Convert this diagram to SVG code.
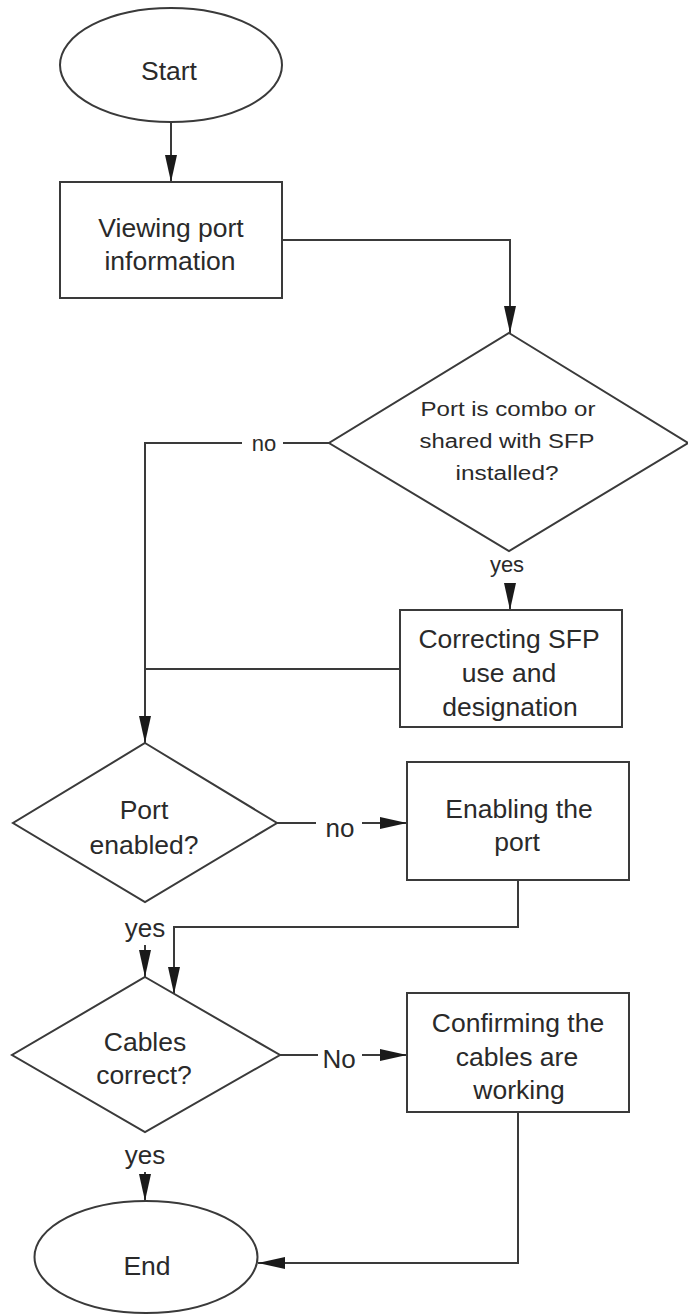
<svg xmlns="http://www.w3.org/2000/svg" width="688" height="1314" viewBox="0 0 688 1314">
<style>
.shape{fill:#fff;stroke:#3a3a3a;stroke-width:2}
.t{font-family:"Liberation Sans",Arial,sans-serif;font-size:26.5px;fill:#2a2a2a;text-anchor:middle}
.s{font-family:"Liberation Sans",Arial,sans-serif;font-size:19.5px;fill:#2a2a2a;text-anchor:middle}
.l{font-family:"Liberation Sans",Arial,sans-serif;font-size:26px;fill:#2a2a2a;text-anchor:middle}
.l2{font-family:"Liberation Sans",Arial,sans-serif;font-size:22px;fill:#2a2a2a;text-anchor:middle}
.c{fill:none;stroke:#3a3a3a;stroke-width:2}
</style>
<defs>
<marker id="ah" markerUnits="userSpaceOnUse" markerWidth="27" markerHeight="13" refX="27" refY="6" orient="auto">
<path d="M0,0 L27,6 L0,12 z" fill="#1a1a1a"/>
</marker>
</defs>
<rect width="688" height="1314" fill="#fff"/>
<g id="connectors">
<path class="c" d="M171,122 V182" marker-end="url(#ah)"/>
<path class="c" d="M282,240 H510 V333" marker-end="url(#ah)"/>
<path class="c" d="M329,443 H283"/>
<path class="c" d="M242,443 H145 V743" marker-end="url(#ah)"/>
<path class="c" d="M510,584 V610" marker-end="url(#ah)"/>
<path class="c" d="M400,669 H145"/>
<path class="c" d="M277,823 H316"/>
<path class="c" d="M362,823 H407" marker-end="url(#ah)"/>
<path class="c" d="M518,880 V927 H174 V994" marker-end="url(#ah)"/>
<path class="c" d="M145,945 V977" marker-end="url(#ah)"/>
<path class="c" d="M280,1055 H318"/>
<path class="c" d="M362,1055 H407" marker-end="url(#ah)"/>
<path class="c" d="M518,1112 V1263 H258" marker-end="url(#ah)"/>
<path class="c" d="M145,1172 V1201" marker-end="url(#ah)"/>
<text class="l2" x="264" y="451">no</text>
<text class="l2" x="507" y="572">yes</text>
<text class="l" x="340" y="837">no</text>
<text class="l" x="145" y="937">yes</text>
<text class="l" x="339" y="1068">No</text>
<text class="l" x="145" y="1164">yes</text>
</g>
<g id="start">
<ellipse class="shape" cx="171" cy="65" rx="111" ry="57"/>
<text class="t" x="169" y="80">Start</text>
</g>
<g id="viewing">
<rect class="shape" x="60" y="182" width="222" height="116"/>
<text class="t" x="171" y="237">Viewing port</text>
<text class="t" x="170" y="270">information</text>
</g>
<g id="combo">
<polygon class="shape" points="509,333 688,443 509,551 329,443"/>
<text class="s" x="508" y="416" textLength="175" lengthAdjust="spacingAndGlyphs">Port is combo or</text>
<text class="s" x="507" y="448" textLength="175" lengthAdjust="spacingAndGlyphs">shared with SFP</text>
<text class="s" x="507" y="480" textLength="103" lengthAdjust="spacingAndGlyphs">installed?</text>
</g>
<g id="correcting">
<rect class="shape" x="400" y="610" width="222" height="117"/>
<text class="t" x="509" y="648">Correcting SFP</text>
<text class="t" x="509" y="682">use and</text>
<text class="t" x="510" y="716">designation</text>
</g>
<g id="enabled">
<polygon class="shape" points="145,743 277,823 145,902 13,823"/>
<text class="t" x="144" y="819">Port</text>
<text class="t" x="144" y="854">enabled?</text>
</g>
<g id="enabling">
<rect class="shape" x="407" y="762" width="222" height="118"/>
<text class="t" x="519" y="818">Enabling the</text>
<text class="t" x="517" y="851">port</text>
</g>
<g id="cables">
<polygon class="shape" points="145,977 280,1055 145,1132 12,1055"/>
<text class="t" x="145" y="1051">Cables</text>
<text class="t" x="144" y="1084">correct?</text>
</g>
<g id="confirming">
<rect class="shape" x="407" y="993" width="222" height="119"/>
<text class="t" x="518" y="1032">Confirming the</text>
<text class="t" x="517" y="1066">cables are</text>
<text class="t" x="519" y="1099">working</text>
</g>
<g id="end">
<ellipse class="shape" cx="146" cy="1257" rx="111.5" ry="56"/>
<text class="t" x="147" y="1275">End</text>
</g>
</svg>
